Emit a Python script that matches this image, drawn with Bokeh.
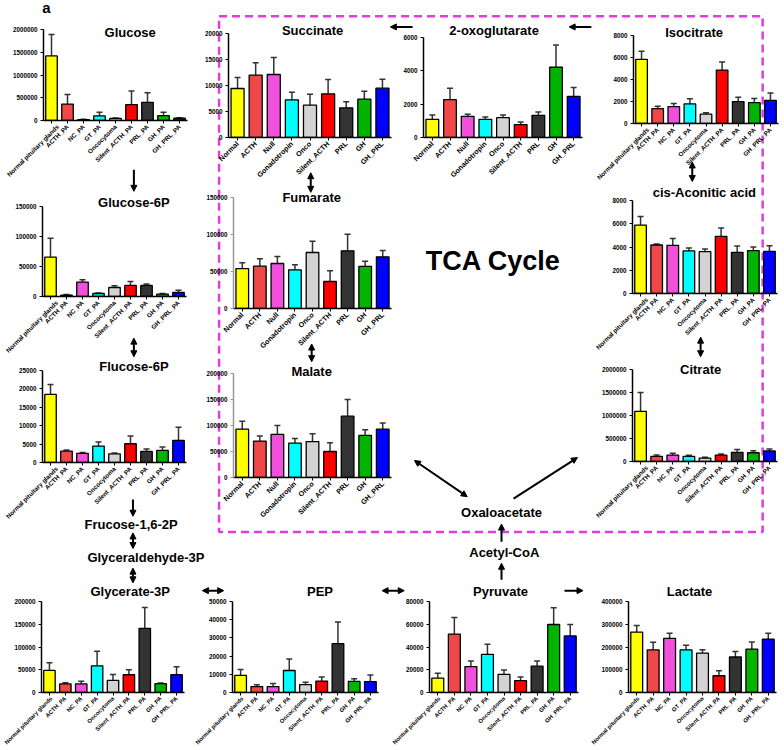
import math
from bokeh.plotting import figure
from bokeh.models import (Range1d, FactorRange, FixedTicker, NumeralTickFormatter, Whisker,
                          TeeHead, ColumnDataSource, Arrow, NormalHead, Column)
from bokeh.core.properties import value
from bokeh.embed import file_html
from bokeh.resources import INLINE

FONT = "Liberation Sans"

# ---------------- data ----------------
long_cats = ["Normal pituitary glands", "ACTH_PA", "NC_PA", "GT_PA", "Oncocytoma",
             "Silent_ACTH_PA", "PRL_PA", "GH_PA", "GH_PRL_PA"]
short_cats = ["Normal", "ACTH", "Null", "Gonadotropin", "Onco", "Silent_ACTH", "PRL", "GH", "GH_PRL"]
bar_colors = ["#ffff00", "#f04848", "#f050dc", "#00ffff", "#d3d3d3", "#ff0000", "#333333", "#00b400", "#0000ff"]

glucose_mean = [1420000, 360000, 20000, 100000, 45000, 350000, 400000, 105000, 50000]
glucose_err = [470000, 210000, 5000, 80000, 10000, 300000, 210000, 75000, 10000]

g6p_mean = [65500, 2200, 24000, 5000, 15000, 18500, 18500, 4000, 6700]
g6p_err = [31500, 1000, 4000, 1000, 3000, 6500, 2500, 1000, 3800]

f6p_mean = [18500, 3100, 2500, 4450, 2350, 5100, 3000, 3300, 6000]
f6p_err = [2700, 300, 200, 1150, 250, 2100, 700, 900, 3600]

glycerate_mean = [48500, 18800, 18800, 58700, 26800, 39000, 141000, 19500, 39000]
glycerate_err = [17000, 2900, 6200, 31800, 13000, 11000, 46000, 1500, 17500]

pep_mean = [9400, 3250, 3250, 12100, 4300, 6300, 26900, 6100, 6000]
pep_err = [3300, 1050, 1650, 6300, 1300, 2200, 11900, 1500, 3600]

pyruvate_mean = [12700, 51400, 22800, 33500, 15900, 10400, 23100, 59800, 49700]
pyruvate_err = [4300, 14500, 4900, 9000, 3800, 3200, 4600, 14800, 10100]

lactate_mean = [265700, 187700, 238000, 187700, 173300, 73600, 156000, 190600, 234000]
lactate_err = [28800, 33300, 22000, 20300, 14400, 21700, 24500, 31800, 26000]

succinate_mean = [9420, 11990, 12120, 7240, 6220, 8400, 5700, 7370, 9490]
succinate_err = [2120, 2370, 3260, 1480, 2110, 2750, 1160, 1540, 1730]

oxoglutarate_mean = [1090, 2270, 1270, 1090, 1190, 775, 1330, 4215, 2465]
oxoglutarate_err = [260, 690, 120, 140, 160, 160, 200, 1335, 535]

isocitrate_mean = [5830, 1360, 1540, 1780, 850, 4860, 1990, 1900, 2110]
isocitrate_err = [730, 210, 270, 460, 120, 730, 400, 370, 670]

aconitic_mean = [5890, 4170, 4140, 3660, 3600, 4910, 3540, 3690, 3630]
aconitic_err = [740, 90, 600, 250, 230, 720, 550, 310, 480]

citrate_mean = [1090000, 110000, 140000, 110000, 75000, 140000, 200000, 190000, 230000]
citrate_err = [410000, 30000, 40000, 25000, 20000, 25000, 60000, 45000, 40000]

fumarate_mean = [54000, 57200, 60800, 52300, 75700, 36500, 78000, 56800, 69800]
fumarate_err = [7700, 9900, 9500, 6700, 15300, 14400, 22500, 7200, 8600]

malate_mean = [93000, 70000, 83000, 66000, 69000, 50000, 118000, 81000, 93000]
malate_err = [15000, 10000, 17000, 9000, 15000, 17000, 32000, 11000, 12000]

# ---------------- helpers ----------------
ML, MR, MT = 38, 4, 4


def make_panel(cats, mean, err, ymax, step, box, label_size="6.3px", axis_color="black", mb=72):
    L, R, T, B = box  # frame box in page pixel coordinates
    fw = R - L
    fh = B - T
    p = figure(x_range=FactorRange(*cats), y_range=Range1d(0, ymax),
               width=int(ML + fw + MR), height=int(MT + fh + mb),
               min_border_left=ML, min_border_right=MR, min_border_top=MT, min_border_bottom=mb,
               toolbar_location=None, tools="", output_backend="svg")
    p.background_fill_color = None
    p.border_fill_color = None
    p.outline_line_color = None
    p.grid.visible = False
    src = ColumnDataSource(dict(cat=cats, mean=mean,
                                up=[m + e for m, e in zip(mean, err)], color=bar_colors))
    p.vbar(x="cat", top="mean", width=0.72, source=src, fill_color="color",
           line_color="black", line_width=1.3)
    p.add_layout(Whisker(base="cat", upper="up", lower="mean", source=src,
                         line_color="#333333", line_width=1.5, lower_head=None,
                         upper_head=TeeHead(size=6, line_color="#333333", line_width=1.5)))
    p.yaxis.ticker = FixedTicker(ticks=list(range(0, ymax + 1, step)))
    p.yaxis.formatter = NumeralTickFormatter(format="0")
    p.yaxis.minor_tick_line_color = None
    for ax in (p.xaxis[0], p.yaxis[0]):
        ax.major_tick_out = 3
        ax.major_tick_in = 0
        ax.axis_line_width = 1.5
        ax.major_label_text_font = FONT
        ax.major_label_text_font_style = "bold"
        ax.major_label_text_color = "black"
    p.yaxis.axis_line_color = axis_color
    p.yaxis.major_tick_line_color = axis_color
    p.yaxis.major_label_text_font_size = "6.3px"
    p.yaxis.major_label_standoff = 3
    p.xaxis.major_label_text_font_size = label_size
    p.xaxis.major_label_orientation = math.pi / 4
    p.xaxis.major_label_standoff = 2
    p.styles = {"position": "absolute", "left": f"{L - ML}px", "top": f"{T - MT}px"}
    return p


panels = [
    make_panel(long_cats, glucose_mean, glucose_err, 2000000, 500000, (43, 187, 29, 120)),
    make_panel(long_cats, g6p_mean, g6p_err, 150000, 50000, (42, 186, 206, 296)),
    make_panel(long_cats, f6p_mean, f6p_err, 25000, 5000, (42, 186, 370, 462)),
    make_panel(long_cats, glycerate_mean, glycerate_err, 200000, 50000, (41, 184, 601, 693), "5.8px", mb=57),
    make_panel(long_cats, pep_mean, pep_err, 50000, 10000, (232, 378, 601, 693), "5.8px", mb=57),
    make_panel(long_cats, pyruvate_mean, pyruvate_err, 80000, 20000, (429, 578, 601, 693), "5.8px", mb=57),
    make_panel(long_cats, lactate_mean, lactate_err, 400000, 100000, (628, 776, 601, 693), "5.8px", mb=57),
    make_panel(short_cats, succinate_mean, succinate_err, 20000, 5000, (228, 391, 33, 137), "7.2px"),
    make_panel(short_cats, oxoglutarate_mean, oxoglutarate_err, 6000, 2000, (423, 582, 37, 137), "7.2px"),
    make_panel(long_cats, isocitrate_mean, isocitrate_err, 8000, 2000, (633, 778, 35, 123)),
    make_panel(long_cats, aconitic_mean, aconitic_err, 8000, 2000, (632, 777, 200, 293)),
    make_panel(long_cats, citrate_mean, citrate_err, 2000000, 500000, (632, 777, 369, 461)),
    make_panel(short_cats, fumarate_mean, fumarate_err, 150000, 50000, (233, 391, 197, 308), "7.2px", "#999999"),
    make_panel(short_cats, malate_mean, malate_err, 200000, 50000, (233, 391, 373, 477), "7.2px", "#999999"),
]

# ---------------- background canvas (page pixel coordinates) ----------------
bg = figure(x_range=Range1d(0, 784), y_range=Range1d(750, 0), width=784, height=750,
            min_border=0, toolbar_location=None, tools="", output_backend="svg",
            x_axis_type=None, y_axis_type=None)
bg.background_fill_color = None
bg.border_fill_color = None
bg.outline_line_color = None
bg.grid.visible = False
bg.styles = {"position": "absolute", "left": "0px", "top": "0px"}

bg.quad(left=[195], right=[782], top=[16], bottom=[543], fill_color=None,
        line_color="#e03ce0", line_width=2.5, line_dash="8 5")

titles = [
    ("Glucose", 99, 33), ("Glucose-6P", 103, 206), ("Flucose-6P", 103, 374),
    ("Frucose-1,6-2P", 100, 535), ("Glyceraldehyde-3P", 116, 569), ("Glycerate-3P", 99, 604),
    ("PEP", 304, 604), ("Pyruvate", 499, 604), ("Acetyl-CoA", 503, 564), ("Oxaloacetate", 500, 523),
    ("Lactate", 703, 604), ("Succinate", 296, 31), ("2-oxoglutarate", 492, 31),
    ("Isocitrate", 708, 33), ("cis-Aconitic acid", 719, 196), ("Citrate", 715, 377),
    ("Fumarate", 295, 201), ("Malate", 295, 379),
]
bg.text(x=[t[1] for t in titles], y=[t[2] for t in titles], text=[t[0] for t in titles],
        text_align="center", text_baseline="middle", text_font=value(FONT),
        text_font_style="bold", text_font_size="13px", text_color="black")
bg.text(x=[491], y=[266], text=["TCA Cycle"], text_align="center", text_baseline="middle",
        text_font=value(FONT), text_font_style="bold", text_font_size="27px", text_color="black")
bg.text(x=[4], y=[7], text=["a"], text_align="left", text_baseline="middle",
        text_font=value(FONT), text_font_style="bold", text_font_size="15px", text_color="black")

arrows = [
    # (x0, y0, x1, y1, double)
    (103, 173, 103, 195, False),
    (103, 345, 103, 364, True),
    (102, 510, 102, 527, False),
    (102, 544, 102, 560, True),
    (102, 580, 102, 595, True),
    (177, 603, 200, 603, True),
    (371, 603, 395, 603, True),
    (568, 603, 588, 603, False),
    (500, 592, 500, 575, False),
    (500, 553, 500, 535, False),
    (406, 470, 463, 507, True),
    (513, 509, 582, 467, False),
    (715, 344, 715, 364, True),
    (706, 165, 706, 185, True),
    (597, 27, 573, 27, False),
    (404, 27, 380, 27, False),
    (294, 176, 294, 196, True),
    (295, 351, 295, 369, True),
]
for x0, y0, x1, y1, dbl in arrows:
    bg.add_layout(Arrow(x_start=x0, y_start=y0, x_end=x1, y_end=y1, line_width=2,
                        line_color="black",
                        end=NormalHead(size=6, fill_color="black", line_color="black"),
                        start=NormalHead(size=6, fill_color="black", line_color="black") if dbl else None))

layout = Column(children=[bg] + panels, width=768, height=734, sizing_mode="fixed",
                styles={"position": "relative"})

open("out.html", "w").write(file_html(layout, INLINE))
